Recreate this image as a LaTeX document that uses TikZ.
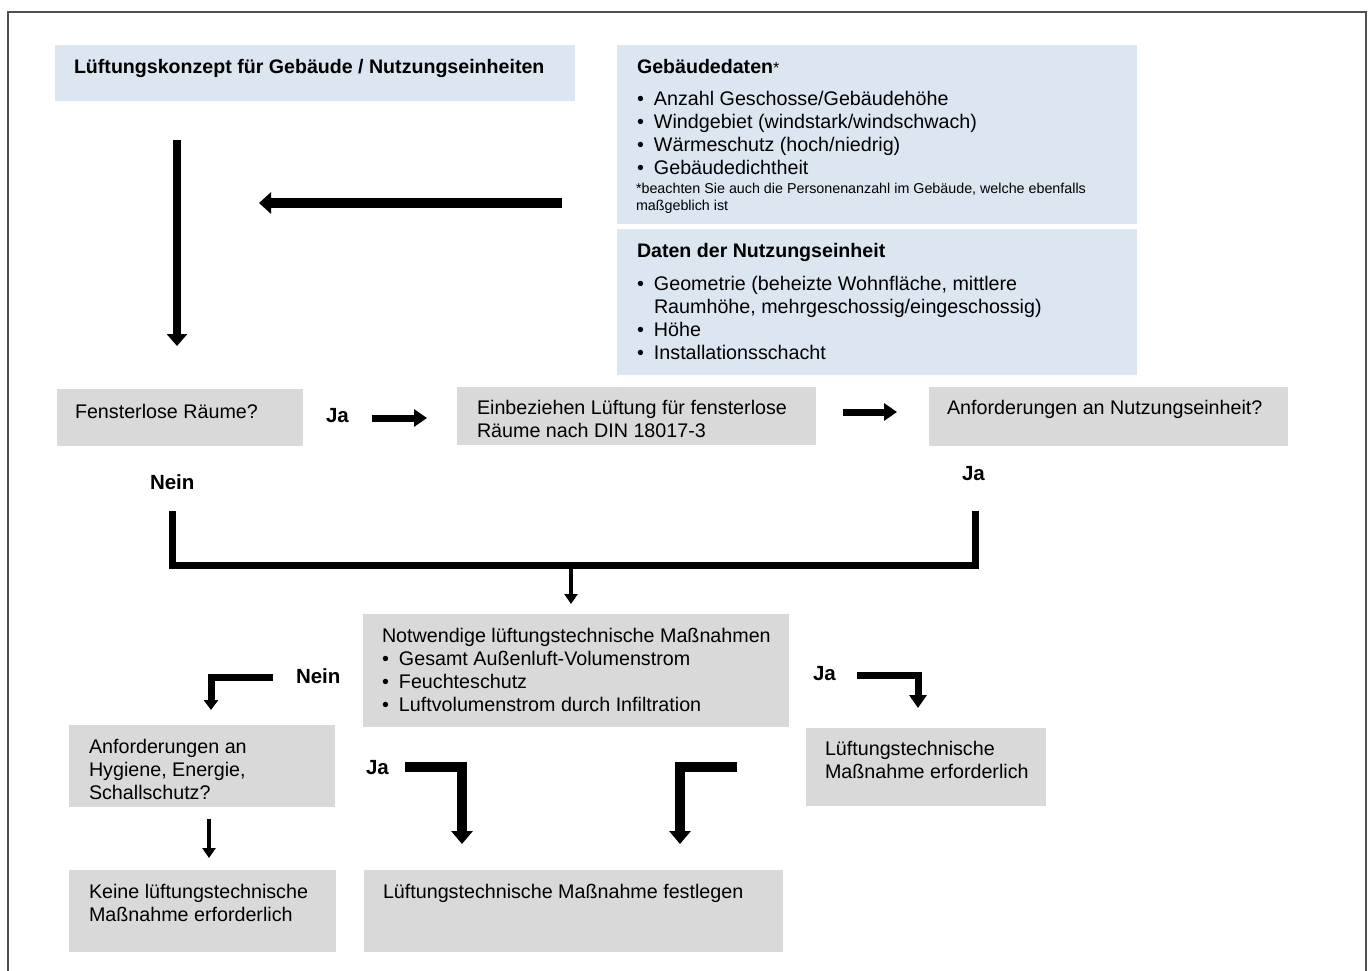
\documentclass[tikz,border=0pt]{standalone}
\usepackage{fontspec}
\setmainfont{Liberation Sans}
\usetikzlibrary{arrows.meta,calc}
\definecolor{lblue}{HTML}{DCE6F1}
\definecolor{lgray}{HTML}{D9D9D9}
\definecolor{framec}{HTML}{505050}
\newcommand{\bul}{\makebox[17pt][l]{\textbullet}}
\newcommand{\bulind}{\hspace*{17pt}}
\begin{document}
\begin{tikzpicture}[x=1pt,y=-1pt,
  box/.style={draw=none, anchor=north west, inner sep=0pt, outer sep=0pt},
  bbox/.style={box, fill=lblue},
  gbox/.style={box, fill=lgray},
  txt/.style={anchor=base west, inner sep=0pt, outer sep=0pt, align=left,
    font=\fontsize{19.7}{23}\selectfont},
  btxt/.style={txt, font=\fontsize{19.6}{23}\selectfont\bfseries},
  small/.style={anchor=base west, inner sep=0pt, outer sep=0pt, align=left,
    font=\fontsize{14.3}{17}\selectfont},
  lab/.style={anchor=base west, inner sep=0pt, outer sep=0pt,
    font=\fontsize{20.5}{22}\selectfont\bfseries},
  conn/.style={draw=black, line cap=butt, line join=miter},
  vertarrow/.style={conn, line width=8pt, -{Triangle[width=20pt,length=12pt]}},
  horarrow/.style={conn, line width=10pt, -{Triangle[width=21pt,length=12pt]}},
  midarrow/.style={conn, line width=7pt, -{Triangle[width=17pt,length=13pt]}},
  neinarrow/.style={conn, line width=7pt, -{Triangle[width=14pt,length=10pt]}},
  elbarrow/.style={conn, line width=10pt, -{Triangle[width=21pt,length=13pt]}},
  smallarrow/.style={conn, line width=4.5pt, -{Triangle[width=13pt,length=10pt]}}
]
\useasboundingbox (0,0) rectangle (1368,970);
% frame
\draw[framec, line width=1.5pt] (8,975) -- (8,12) -- (1366,12) -- (1366,975);

% boxes
\node[bbox, minimum width=520pt, minimum height=56pt] (A) at (55,45) {};
\node[bbox, minimum width=520pt, minimum height=179pt] (B) at (617,45) {};
\node[bbox, minimum width=520pt, minimum height=146pt] (C) at (617,229) {};
\node[gbox, minimum width=246pt, minimum height=57pt] (D) at (57,389) {};
\node[gbox, minimum width=359pt, minimum height=58pt] (E) at (457,387) {};
\node[gbox, minimum width=359pt, minimum height=59pt] (F) at (929,387) {};
\node[gbox, minimum width=426pt, minimum height=113pt] (G) at (363,614) {};
\node[gbox, minimum width=266pt, minimum height=82pt] (H) at (69,725) {};
\node[gbox, minimum width=240pt, minimum height=78pt] (I) at (806,728) {};
\node[gbox, minimum width=267pt, minimum height=82pt] (J) at (69,870) {};
\node[gbox, minimum width=419pt, minimum height=82pt] (K) at (364,870) {};

% texts (multi-line nodes: base = baseline of the last line)
\node[btxt] (At) at (74,73) {Lüftungskonzept für Gebäude / Nutzungseinheiten};
\node[btxt] (Bh) at (637,73) {Gebäudedaten{\mdseries\fontsize{16}{16}\selectfont *}};
\node[txt] (Bt) at (637,174) {\bul Anzahl Geschosse/Gebäudehöhe\\
  \bul Windgebiet (windstark/windschwach)\\
  \bul Wärmeschutz (hoch/niedrig)\\
  \bul Gebäudedichtheit};
\node[small] (Bf) at (636,210) {*beachten Sie auch die Personenanzahl im Gebäude, welche ebenfalls\\maßgeblich ist};
\node[btxt] (Ch) at (637,257) {Daten der Nutzungseinheit};
\node[txt] (Ct) at (637,359) {\bul Geometrie (beheizte Wohnfläche, mittlere\\
  \bulind Raumhöhe, mehrgeschossig/eingeschossig)\\
  \bul Höhe\\
  \bul Installationsschacht};
\node[txt] (Dt) at (75,418) {Fensterlose Räume?};
\node[txt] (Et) at (477,437) {Einbeziehen Lüftung für fensterlose\\Räume nach DIN 18017-3};
\node[txt] (Ft) at (947,414) {Anforderungen an Nutzungseinheit?};
\node[txt] (Gt) at (382,711) {Notwendige lüftungstechnische Maßnahmen\\
  \bul Gesamt Außenluft-Volumenstrom\\
  \bul Feuchteschutz\\
  \bul Luftvolumenstrom durch Infiltration};
\node[txt] (Ht) at (89,799) {Anforderungen an\\Hygiene, Energie,\\Schallschutz?};
\node[txt] (It) at (825,778) {Lüftungstechnische\\Maßnahme erforderlich};
\node[txt] (Jt) at (89,921) {Keine lüftungstechnische\\Maßnahme erforderlich};
\node[txt] (Kt) at (383,898) {Lüftungstechnische Maßnahme festlegen};

% labels
\node[lab] (ja1) at (326,422) {Ja};
\node[lab] (nein1) at (150,489) {Nein};
\node[lab] (ja2) at (962,480) {Ja};
\node[lab] (nein2) at (296,683) {Nein};
\node[lab] (ja3) at (813,680) {Ja};
\node[lab] (ja4) at (366,774) {Ja};

% connector coordinates
\coordinate (a1s) at (177,140);
\coordinate (a1e) at (177,346);
\coordinate (a2s) at (562,203);
\coordinate (a2e) at (259,203);
\coordinate (a3s) at (372,418);
\coordinate (a3e) at (427,418);
\coordinate (a4s) at (843,412);
\coordinate (a4e) at (897,412);
\coordinate (br1) at (172,511);
\coordinate (br2) at (975,511);
\coordinate (brm) at (571,565);
\coordinate (a5e) at (571,604);
\coordinate (n2s) at (273,677);
\coordinate (n2e) at (211,710);
\coordinate (j3s) at (857,675);
\coordinate (j3e) at (918,708);
\coordinate (j4s) at (405,767);
\coordinate (j4e) at (462,844);
\coordinate (k2s) at (737,767);
\coordinate (k2e) at (680,844);
\coordinate (h1s) at (209,819);
\coordinate (h1e) at (209,858);

% connectors
\draw[vertarrow] (a1s) -- (a1e);
\draw[horarrow] (a2s) -- (a2e);
\draw[midarrow] (a3s) -- (a3e);
\draw[midarrow] (a4s) -- (a4e);
\draw[conn, line width=7pt] (br1) |- (brm) -| (br2);
\draw[smallarrow] (brm) -- (a5e);
\draw[neinarrow] (n2s) -| (n2e);
\draw[midarrow] (j3s) -| (j3e);
\draw[elbarrow] (j4s) -| (j4e);
\draw[elbarrow] (k2s) -| (k2e);
\draw[smallarrow] (h1s) -- (h1e);
\end{tikzpicture}
\end{document}
